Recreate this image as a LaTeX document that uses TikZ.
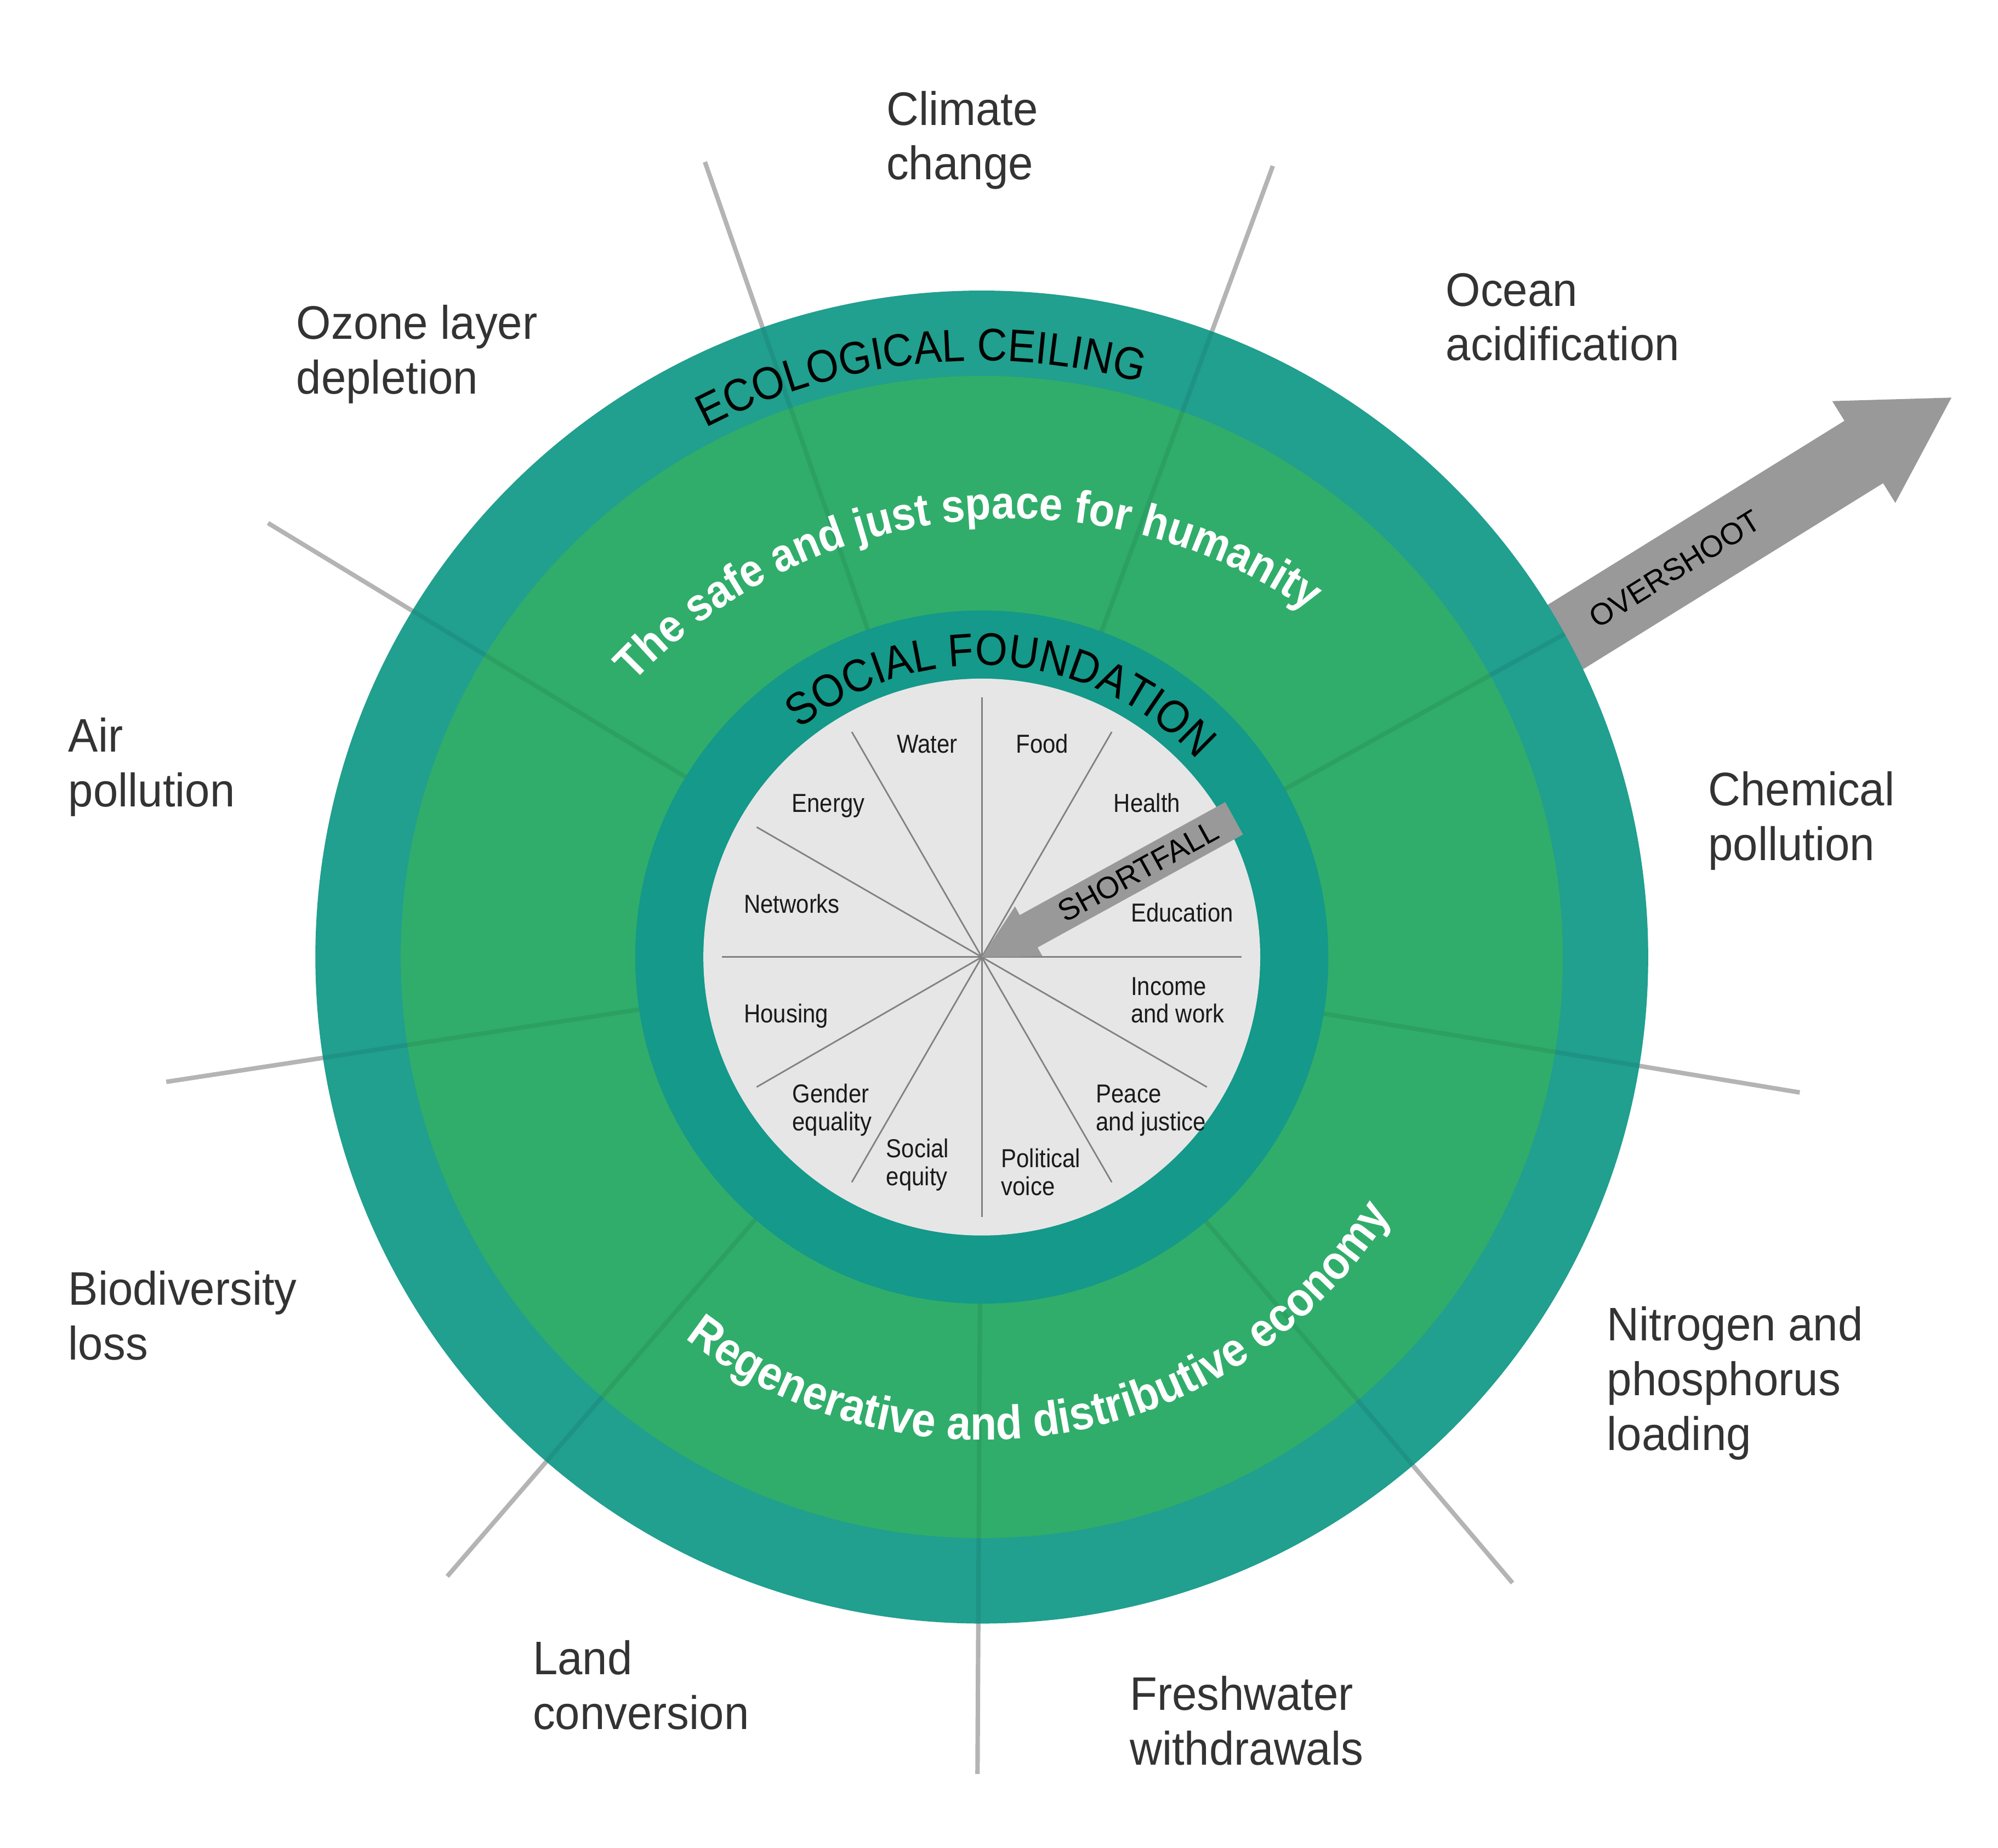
\documentclass[tikz,border=0pt]{standalone}
\usepackage{fontspec}
\setmainfont{Liberation Sans}
\newfontfamily\labelfont{Liberation Sans}[FakeStretch=0.95]
\newfontfamily\piefont{Liberation Sans}[FakeStretch=0.885]
\newfontfamily\ringfont{Liberation Sans}[FakeStretch=0.91]
\usetikzlibrary{decorations.text}
\definecolor{ceilteal}{HTML}{219F8F}
\definecolor{spacegreen}{HTML}{30AD6A}
\definecolor{baseteal}{HTML}{14998A}
\definecolor{piegray}{HTML}{E6E6E6}
\definecolor{arrowgray}{HTML}{999999}
\definecolor{linegray}{HTML}{B4B4B4}
\definecolor{spokegray}{HTML}{828282}
\definecolor{labeltext}{HTML}{333333}
\definecolor{pietext}{HTML}{1A1A1A}
\newcommand\ringtext{\ringfont\fontsize{10.2}{12}\selectfont}
\newcommand\boldtext{\ringfont\bfseries\fontsize{10.6}{12}\selectfont}
\newcommand\boldtop{\ringfont\bfseries\fontsize{10.3}{12}\selectfont}
\tikzset{
  boundary/.style={draw=linegray, line width=1pt},
  faintline/.style={draw=black, draw opacity=0.07, line width=1pt},
  spoke/.style={draw=spokegray, line width=0.35pt},
  bigarrow/.style={fill=arrowgray},
  outerlabel/.style={anchor=base west, inner sep=0pt, align=left, text=labeltext, font=\labelfont\fontsize{10.5}{12.2}\selectfont},
  pielabel/.style={anchor=base west, inner sep=0pt, align=left, text=pietext, font=\piefont\fontsize{5.8}{6.2}\selectfont},
  arrowlabel/.style={inner sep=0pt, font=\fontsize{6.8}{8}\selectfont}
}

\begin{document}
\begin{tikzpicture}[x=0.01cm,y=0.01cm]
  \useasboundingbox (-770.5,-699) rectangle (797.5,751);

  % planetary boundary lines
  \foreach \a/\r in {29/650,69.8/661.5,109.2/660.7,148.7/655.6,188.7/647.5,229.2/642,269.7/641,310.3/644,350.6/650.7} {
    \draw[boundary] (\a:400) -- (\a:\r);
  }

  % overshoot arrow
  \coordinate (overtip) at (761,439);
  \begin{scope}[shift={(overtip)}, rotate=31.8]
    \fill[bigarrow] (0,0) -- (-81,47) -- (-81,28.8) -- (-400,28.8) -- (-400,-28.8) -- (-81,-28.8) -- (-81,-47) -- cycle;
  \end{scope}

  % rings
  \fill[ceilteal] (0,0) circle[radius=523];
  \fill[spacegreen] (0,0) circle[radius=456];
  \fill[baseteal] (0,0) circle[radius=272];
  \fill[piegray] (0,0) circle[radius=218.5];

  \foreach \a in {29,69.8,109.2,148.7,188.7,229.2,269.7,310.3,350.6} {
    \draw[faintline] (\a:272) -- (\a:523);
  }
  \foreach \a in {0,30,...,330} {
    \draw[spoke] (0,0) -- (\a:204);
  }

  % shortfall arrow
  \begin{scope}[rotate=28.8]
    \fill[bigarrow] (0,0) -- (42,22.3) -- (42,14.5) -- (226,14.5) -- (226,-14.5) -- (42,-14.5) -- (42,-22.3) -- cycle;
  \end{scope}
  \node[arrowlabel, rotate=28.8] (shortfall) at (28.8:140) {SHORTFALL};
  \node[arrowlabel, rotate=31.8] (overshoot) at ([shift={(overtip)}]211.8:255.3) {OVERSHOOT};

  % ring texts
  \path[decorate, decoration={text along path, text align=center, text={|\ringtext|ECOLOGICAL CEILING}}]
    (146:468) arc[start angle=146, end angle=46, radius=468];
  \path[decorate, decoration={text along path, text align=center, text={|\ringtext|SOCIAL FOUNDATION}}]
    (135.5:229) arc[start angle=135.5, end angle=35.5, radius=229];
  \path[decorate, decoration={text along path, text align=center, text color=white, text={|\boldtop|The safe and just space for humanity}}]
    ([shift={(24,-64)}]146:408) arc[start angle=146, end angle=46, radius=408];
  \path[decorate, decoration={text along path, text align=center, text color=white, text={|\boldtext|Regenerative and distributive economy}}]
    (220:379) arc[start angle=220, end angle=340, radius=379];

  % social foundation
  \node[pielabel] (water) at (-67.2,160.3) {Water};
  \node[pielabel] (food) at (26.1,160.3) {Food};
  \node[pielabel] (energy) at (-149.8,113.5) {Energy};
  \node[pielabel] (health) at (102.9,113.5) {Health};
  \node[pielabel] (networks) at (-187.4,34.7) {Networks};
  \node[pielabel] (education) at (116.4,27.8) {Education};
  \node[pielabel] (housing) at (-187.4,-51.7) {Housing};
  \node[pielabel] (income) at (116.4,-51.7) {Income\\and work};
  \node[pielabel] (gender) at (-149.3,-136.2) {Gender\\equality};
  \node[pielabel] (peace) at (89,-136.2) {Peace\\and justice};
  \node[pielabel] (equity) at (-75.7,-179.2) {Social\\equity};
  \node[pielabel] (voice) at (14.6,-186.8) {Political\\voice};

  % ecological ceiling
  \node[outerlabel] (climate) at (-75.5,610) {Climate\\change};
  \node[outerlabel] (ocean) at (363.5,468) {Ocean\\acidification};
  \node[outerlabel] (ozone) at (-538.5,442) {Ozone layer\\depletion};
  \node[outerlabel] (air) at (-717.5,118) {Air\\pollution};
  \node[outerlabel] (chemical) at (569.5,76) {Chemical\\pollution};
  \node[outerlabel] (biodiversity) at (-717.5,-316) {Biodiversity\\loss};
  \node[outerlabel] (nitrogen) at (490,-387) {Nitrogen and\\phosphorus\\loading};
  \node[outerlabel] (land) at (-353,-606) {Land\\conversion};
  \node[outerlabel] (freshwater) at (115.5,-634) {Freshwater\\withdrawals};
\end{tikzpicture}
\end{document}
